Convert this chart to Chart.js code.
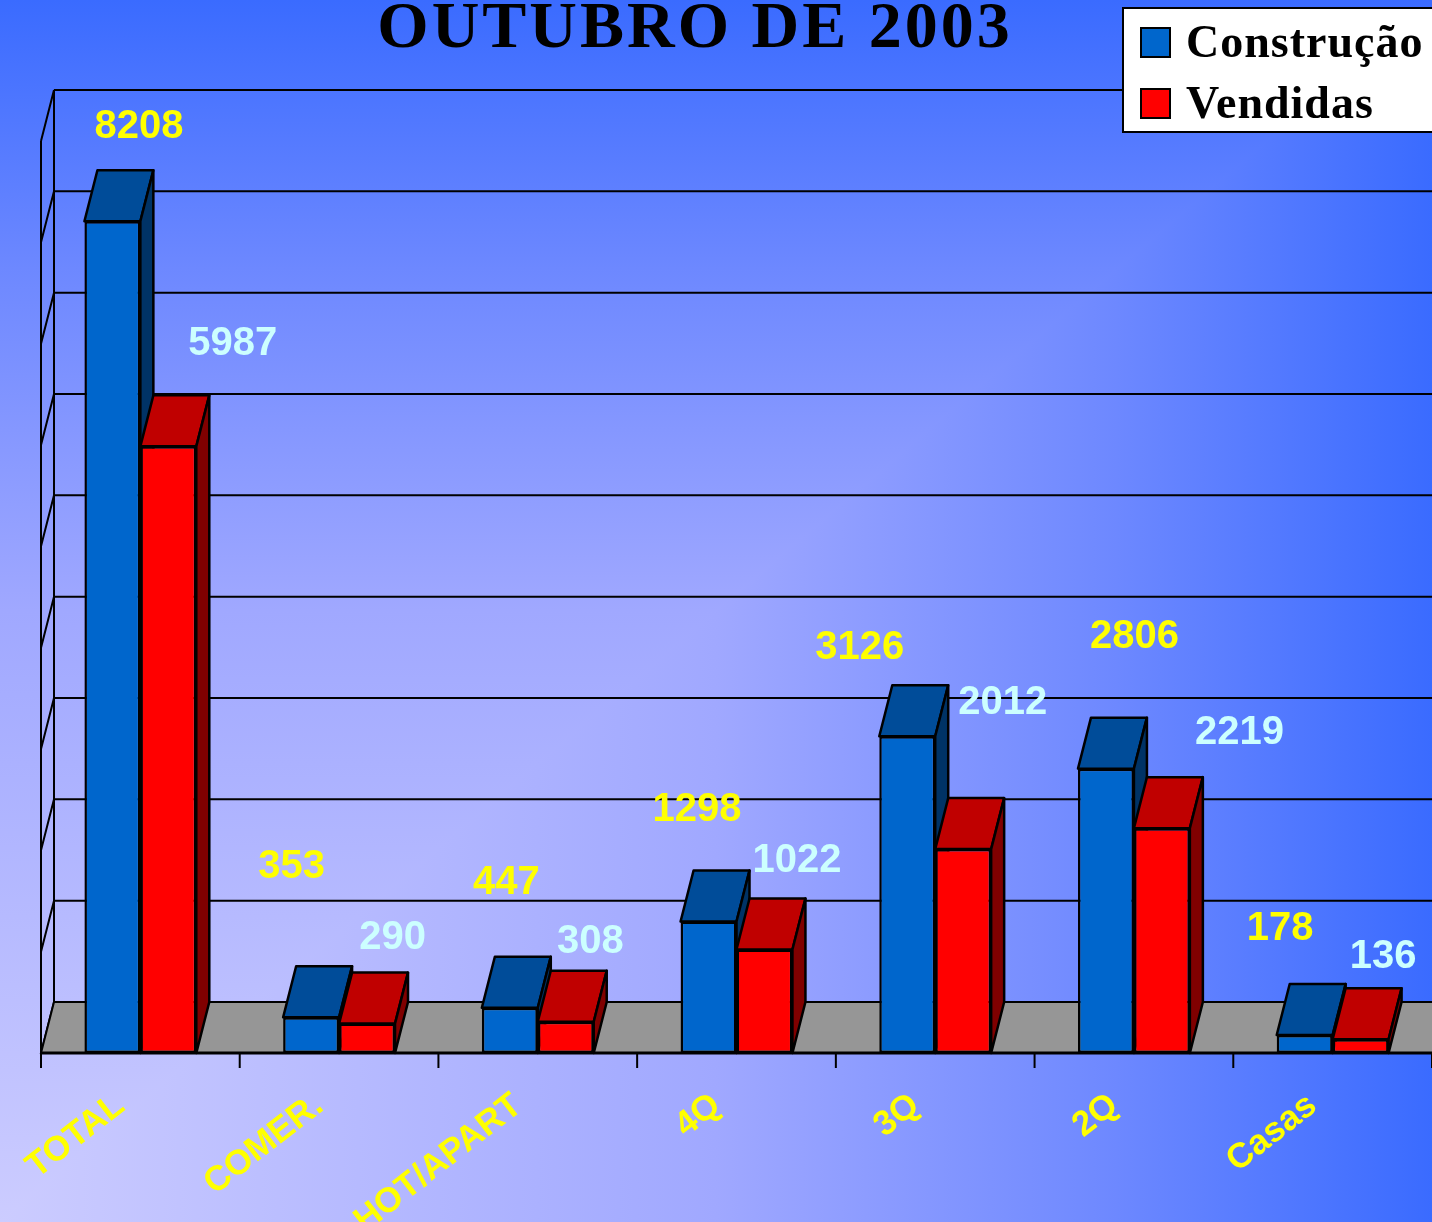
<!DOCTYPE html>
<html>
<head>
<meta charset="utf-8">
<script src="https://cdn.jsdelivr.net/npm/chart.js@4.4.0/dist/chart.umd.min.js"></script>
<style>
  html, body { margin: 0; padding: 0; background: #ccccff; }
  #wrap { width: 1432px; height: 1222px; }
</style>
</head>
<body>
<div id="wrap"><canvas id="chart" width="1432" height="1222"></canvas></div>
<script>
const chartTitle = "OUTUBRO DE 2003";
const categories = ["TOTAL", "COMER.", "HOT/APART", "4Q", "3Q", "2Q", "Casas"];
const seriesNames = ["Construção", "Vendidas"];
const construcao = [8208, 353, 447, 1298, 3126, 2806, 178];
const vendidas = [5987, 290, 308, 1022, 2012, 2219, 136];
const yTicks = [0, 1000, 2000, 3000, 4000, 5000, 6000, 7000, 8000, 9000];

// the labels were moved by hand in the original, so each one gets a nudge (px) from its bar top
const labelNudgeConstrucao = [[20, -43], [-26, -99], [-10, -74], [-18, -61], [-54, -37], [22, -81], [-31, -55]];
const labelNudgeVendidas = [[58, -51], [19, -35], [18, -29], [26, -37], [33, -95], [71, -44], [16, -31]];

// fake 3d depth
const DX = 13, DY = -51;

const frontColors = ['#0066cc', '#ff0000'];
const topColors = ['#004c99', '#c00000'];
const sideColors = ['#003366', '#800000'];
const labelColors = ['#ffff00', '#ccffff'];
const nudges = [labelNudgeConstrucao, labelNudgeVendidas];

function poly(ctx, pts, fill) {
  ctx.beginPath();
  ctx.moveTo(pts[0][0], pts[0][1]);
  for (let i = 1; i < pts.length; i++) ctx.lineTo(pts[i][0], pts[i][1]);
  ctx.closePath();
  if (fill) {
    ctx.fillStyle = fill;
    ctx.fill();
  }
  ctx.stroke();
}

function paintBackground(ctx, w, h) {
  const stops = [[0, '#ccccff'], [0.5, '#a0a8ff'], [0.78, '#6d88ff'], [1, '#3a6bff']];
  // colour follows the larger of the two distances from the bottom-left corner
  let g = ctx.createLinearGradient(0, h, 0, 0);
  stops.forEach(s => g.addColorStop(s[0], s[1]));
  ctx.fillStyle = g;
  ctx.fillRect(0, 0, w, h);
  ctx.save();
  ctx.beginPath();
  ctx.moveTo(0, h);
  ctx.lineTo(w, 0);
  ctx.lineTo(w, h);
  ctx.closePath();
  ctx.clip();
  g = ctx.createLinearGradient(0, 0, w, 0);
  stops.forEach(s => g.addColorStop(s[0], s[1]));
  ctx.fillStyle = g;
  ctx.fillRect(0, 0, w, h);
  ctx.restore();
}

function drawFaces(chart, dsIndex) {
  const ctx = chart.ctx;
  const meta = chart.getDatasetMeta(dsIndex);
  ctx.save();
  ctx.strokeStyle = '#000';
  ctx.lineWidth = 2.5;
  ctx.lineJoin = 'round';
  meta.data.forEach(bar => {
    const p = bar.getProps(['x', 'y', 'base', 'width'], true);
    const l = p.x - p.width / 2, r = p.x + p.width / 2;
    poly(ctx, [[l, p.y], [r, p.y], [r + DX, p.y + DY], [l + DX, p.y + DY]], topColors[dsIndex]);
    poly(ctx, [[r, p.y], [r + DX, p.y + DY], [r + DX, p.base + DY], [r, p.base]], sideColors[dsIndex]);
  });
  ctx.restore();
}

const box3d = {
  id: 'box3d',
  beforeDraw(chart) {
    paintBackground(chart.ctx, chart.width, chart.height);
  },
  beforeDatasetsDraw(chart) {
    const ctx = chart.ctx;
    const area = chart.chartArea;
    const ys = chart.scales.y;
    const y0 = ys.getPixelForValue(0);
    const yMax = ys.getPixelForValue(yTicks[yTicks.length - 1]);
    const W = chart.width + 20;
    ctx.save();
    ctx.strokeStyle = '#000';
    ctx.lineWidth = 2;
    // back wall grid + left wall
    yTicks.forEach(v => {
      const y = ys.getPixelForValue(v);
      ctx.beginPath();
      ctx.moveTo(area.left + DX, y + DY);
      ctx.lineTo(W, y + DY);
      ctx.moveTo(area.left, y);
      ctx.lineTo(area.left + DX, y + DY);
      ctx.stroke();
    });
    ctx.beginPath();
    ctx.moveTo(area.left, y0);
    ctx.lineTo(area.left, yMax);
    ctx.moveTo(area.left + DX, y0 + DY);
    ctx.lineTo(area.left + DX, yMax + DY);
    ctx.stroke();
    // floor
    poly(ctx, [[area.left, y0], [area.left + DX, y0 + DY], [W, y0 + DY], [W, y0]], '#969696');
    ctx.restore();
    drawFaces(chart, 0);
  },
  afterDatasetsDraw(chart) {
    const ctx = chart.ctx;
    const area = chart.chartArea;
    const xs = chart.scales.x;
    const y0 = chart.scales.y.getPixelForValue(0);
    drawFaces(chart, 1);
    ctx.save();
    ctx.strokeStyle = '#000';
    ctx.lineWidth = 3;
    ctx.beginPath();
    ctx.moveTo(area.left, y0);
    ctx.lineTo(chart.width + 20, y0);
    ctx.stroke();
    ctx.lineWidth = 2;
    const step = (area.right - area.left) / categories.length;
    for (let i = 0; i <= categories.length; i++) {
      const x = xs.getPixelForValue(0) - step / 2 + i * step;
      ctx.beginPath();
      ctx.moveTo(x, y0);
      ctx.lineTo(x, y0 + 15);
      ctx.stroke();
    }
    ctx.restore();
  },
  afterDraw(chart) {
    const ctx = chart.ctx;
    const xs = chart.scales.x;
    const y0 = chart.scales.y.getPixelForValue(0);
    ctx.save();
    // value labels
    ctx.font = 'bold 40px "Liberation Sans", Arial, sans-serif';
    ctx.textAlign = 'center';
    ctx.textBaseline = 'middle';
    chart.data.datasets.forEach((ds, di) => {
      chart.getDatasetMeta(di).data.forEach((bar, i) => {
        const p = bar.getProps(['x', 'y'], true);
        ctx.fillStyle = labelColors[di];
        ctx.fillText(String(ds.data[i]), p.x + DX / 2 + nudges[di][i][0], p.y + DY + nudges[di][i][1]);
      });
    });
    // category labels
    ctx.font = 'bold 35px "Liberation Sans", Arial, sans-serif';
    ctx.fillStyle = '#ffff00';
    ctx.textAlign = 'right';
    ctx.textBaseline = 'alphabetic';
    categories.forEach((c, i) => {
      ctx.save();
      ctx.translate(xs.getPixelForValue(i) - 14, y0 + 56);
      ctx.rotate(-38 * Math.PI / 180);
      ctx.fillText(c, 0, 0);
      ctx.restore();
    });
    // title
    ctx.font = 'bold 66px "Liberation Serif", "Times New Roman", serif';
    ctx.letterSpacing = '3px';
    ctx.fillStyle = '#000';
    ctx.textAlign = 'center';
    ctx.fillText(chartTitle, 695, 47);
    // legend
    ctx.letterSpacing = '1px';
    ctx.fillStyle = '#fff';
    ctx.strokeStyle = '#000';
    ctx.lineWidth = 2;
    ctx.fillRect(1123, 8, 400, 124);
    ctx.strokeRect(1123, 8, 400, 124);
    ctx.font = 'bold 46px "Liberation Serif", "Times New Roman", serif';
    ctx.textAlign = 'left';
    seriesNames.forEach((name, i) => {
      const top = i === 0 ? 28 : 89;
      ctx.fillStyle = frontColors[i];
      ctx.fillRect(1141, top, 29, 29);
      ctx.strokeRect(1141, top, 29, 29);
      ctx.fillStyle = '#000';
      ctx.fillText(name, 1186, top + 29);
    });
    ctx.restore();
  }
};

new Chart(document.getElementById('chart').getContext('2d'), {
  type: 'bar',
  data: {
    labels: categories,
    datasets: [
      { label: seriesNames[0], data: construcao, backgroundColor: frontColors[0], borderColor: '#000', borderWidth: 2.5, borderSkipped: false },
      { label: seriesNames[1], data: vendidas, backgroundColor: frontColors[1], borderColor: '#000', borderWidth: 2.5, borderSkipped: false }
    ]
  },
  options: {
    responsive: false,
    animation: false,
    layout: { padding: { left: 41, top: 141, right: 0, bottom: 169 } },
    datasets: { bar: { barPercentage: 1, categoryPercentage: 0.563 } },
    scales: {
      x: { display: false },
      y: { display: false, min: 0, max: 9000 }
    },
    plugins: {
      legend: { display: false },
      tooltip: { enabled: false },
      title: { display: false }
    }
  },
  plugins: [box3d]
});
</script>
</body>
</html>
